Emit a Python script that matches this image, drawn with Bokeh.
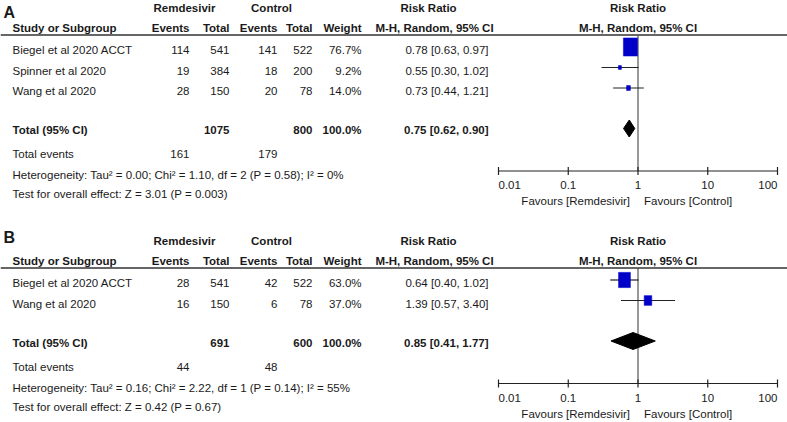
import math
from bokeh.plotting import figure
from bokeh.models import Range1d, LogScale, ColumnDataSource
from bokeh.core.properties import value
from bokeh.embed import file_html
from bokeh.resources import INLINE

# ---------------- data ----------------
# Panel A
studies_a = ["Biegel et al 2020 ACCT", "Spinner et al 2020", "Wang et al 2020"]
rem_events_a = [114, 19, 28]
rem_total_a = [541, 384, 150]
ctl_events_a = [141, 18, 20]
ctl_total_a = [522, 200, 78]
weight_a = [76.7, 9.2, 14.0]
rr_a = [0.78, 0.55, 0.73]
rr_lo_a = [0.63, 0.30, 0.44]
rr_hi_a = [0.97, 1.02, 1.21]
pooled_a = [0.75, 0.62, 0.90]          # estimate, lower, upper
totals_a = [1075, 800]                 # remdesivir total, control total
total_weight_a = "100.0%"
total_events_a = [161, 179]
het_a = "Heterogeneity: Tau\u00b2 = 0.00; Chi\u00b2 = 1.10, df = 2 (P = 0.58); I\u00b2 = 0%"
test_a = "Test for overall effect: Z = 3.01 (P = 0.003)"

# Panel B
studies_b = ["Biegel et al 2020 ACCT", "Wang et al 2020"]
rem_events_b = [28, 16]
rem_total_b = [541, 150]
ctl_events_b = [42, 6]
ctl_total_b = [522, 78]
weight_b = [63.0, 37.0]
rr_b = [0.64, 1.39]
rr_lo_b = [0.40, 0.57]
rr_hi_b = [1.02, 3.40]
pooled_b = [0.85, 0.41, 1.77]
totals_b = [691, 600]
total_weight_b = "100.0%"
total_events_b = [44, 48]
het_b = "Heterogeneity: Tau\u00b2 = 0.16; Chi\u00b2 = 2.22, df = 1 (P = 0.14); I\u00b2 = 55%"
test_b = "Test for overall effect: Z = 0.42 (P = 0.67)"

axis_ticks = [0.01, 0.1, 1, 10, 100]
axis_tick_labels = ["0.01", "0.1", "1", "10", "100"]

# ---------------- styling / layout ----------------
FONT = "Liberation Sans"
FS = "11.5px"
TXT = "#1a1a1a"
BLUE = "#0000c8"

W, H = 787, 422
p = figure(width=W, height=H, x_range=Range1d(0, 787), y_range=Range1d(422, 0),
           toolbar_location=None, output_backend="svg", min_border=0,
           outline_line_color=None, background_fill_color="white")
p.xaxis.visible = False
p.yaxis.visible = False
p.xgrid.visible = False
p.ygrid.visible = False

# log scale for the forest part: 1 decade = 69.75 ref px, RR=1 at x=637.5
PX_DEC = 69.75
X_ONE = 637.5
log_lo = (0 - X_ONE) / PX_DEC
log_hi = (787 - X_ONE) / PX_DEC
p.extra_x_ranges = {"log": Range1d(10 ** log_lo, 10 ** log_hi)}
p.extra_x_scales = {"log": LogScale()}


def txt(x, y, s, align="left", bold=False, size=FS, rng="default", xoff=0):
    src = ColumnDataSource(dict(x=list(x), y=list(y), t=list(s)))
    p.text(x="x", y="y", text="t", source=src, text_align=align, text_baseline="middle",
           text_font=value(FONT), text_font_size=size,
           text_font_style="bold" if bold else "normal", text_color=TXT,
           x_range_name=rng, x_offset=xoff)


def panel(letter, letter_y, hdr_y, studies, rev, rtot, cev, ctot, wt, rr, lo, hi,
          pooled, totals, tweight, tevents, het, test):
    col_y = hdr_y + 20
    line_y = col_y + 7.5
    first = line_y + 15
    rows = [first + 20.5 * i for i in range(len(studies))]
    last = rows[-1]
    tot_y = last + 39
    tev_y = tot_y + 24
    het_y = tot_y + 45
    test_y = tot_y + 64
    ax_y = tot_y + 41
    tick_y = tot_y + 55
    fav_y = tot_y + 71

    # letter
    txt([3], [letter_y], [letter], bold=True, size="16px")
    # group headers
    txt([184, 271], [hdr_y, hdr_y], ["Remdesivir", "Control"], align="center", bold=True)
    txt([428], [hdr_y], ["Risk Ratio"], align="center", bold=True)
    txt([1], [hdr_y], ["Risk Ratio"], align="center", bold=True, rng="log")
    # column headers
    txt([12], [col_y], ["Study or Subgroup"], bold=True)
    txt([189, 229, 277, 312, 361], [col_y] * 5,
        ["Events", "Total", "Events", "Total", "Weight"], align="right", bold=True)
    txt([434], [col_y], ["M-H, Random, 95% CI"], align="center", bold=True)
    txt([1], [col_y], ["M-H, Random, 95% CI"], align="center", bold=True, rng="log")
    # header rule
    p.segment(x0=[0], y0=[line_y], x1=[787], y1=[line_y], line_color="#333333", line_width=1.3)

    # study rows
    n = len(studies)
    txt([12] * n, rows, studies)
    for xc, vals in ((189, rev), (229, rtot), (277, cev), (312, ctot)):
        txt([xc] * n, rows, [str(v) for v in vals], align="right")
    txt([361] * n, rows, [f"{w:.1f}%" for w in wt], align="right")
    txt([488] * n, rows, [f"{a:.2f} [{b:.2f}, {c:.2f}]" for a, b, c in zip(rr, lo, hi)], align="right")

    # total row
    txt([12], [tot_y], ["Total (95% CI)"], bold=True)
    txt([229, 312], [tot_y, tot_y], [str(totals[0]), str(totals[1])], align="right", bold=True)
    txt([361], [tot_y], [tweight], align="right", bold=True)
    txt([488], [tot_y], [f"{pooled[0]:.2f} [{pooled[1]:.2f}, {pooled[2]:.2f}]"], align="right", bold=True)
    txt([12], [tev_y], ["Total events"])
    txt([189, 277], [tev_y, tev_y], [str(tevents[0]), str(tevents[1])], align="right")
    txt([12, 12], [het_y, test_y], [het, test])

    # forest: vertical line of no effect
    p.segment(x0=[1], y0=[line_y], x1=[1], y1=[ax_y], x_range_name="log",
              line_color="#555555", line_width=1.2)
    mark_y = [r - 3 for r in rows]
    p.segment(x0=lo, y0=mark_y, x1=hi, y1=mark_y, x_range_name="log",
              line_color="#222222", line_width=1.2)
    sw = [(1.5 + 0.165 * w) for w in wt]
    sh = [(1.5 + 0.165 * w) * 1.28 for w in wt]
    src = ColumnDataSource(dict(x=rr, y=mark_y, w=sw, h=sh))
    p.rect(x="x", y="y", width="w", height="h", width_units="screen", height_units="screen",
           source=src, x_range_name="log", fill_color=BLUE, line_color=BLUE, line_width=0.5)
    dy = tot_y - 1.5
    dh = 8.5
    p.patch(x=[pooled[1], pooled[0], pooled[2], pooled[0]],
            y=[dy, dy - dh, dy, dy + dh], x_range_name="log",
            fill_color="black", line_color="black")

    # axis
    p.segment(x0=[axis_ticks[0]], y0=[ax_y], x1=[axis_ticks[-1]], y1=[ax_y],
              x_range_name="log", line_color="#222222", line_width=1.2)
    p.segment(x0=axis_ticks, y0=[ax_y - 4] * 5, x1=axis_ticks, y1=[ax_y + 4] * 5,
              x_range_name="log", line_color="#222222", line_width=1.2)
    txt([axis_ticks[0]], [tick_y], [axis_tick_labels[0]], rng="log")
    txt(axis_ticks[1:-1], [tick_y] * 3, axis_tick_labels[1:-1], align="center", rng="log")
    txt([axis_ticks[-1]], [tick_y], [axis_tick_labels[-1]], align="right", rng="log")
    txt([1], [fav_y], ["Favours [Remdesivir]"], align="right", rng="log", xoff=-8)
    txt([1], [fav_y], ["Favours [Control]"], align="left", rng="log", xoff=6)


panel("A", 12, 7, studies_a, rem_events_a, rem_total_a, ctl_events_a, ctl_total_a, weight_a,
      rr_a, rr_lo_a, rr_hi_a, pooled_a, totals_a, total_weight_a, total_events_a, het_a, test_a)
panel("B", 237, 240, studies_b, rem_events_b, rem_total_b, ctl_events_b, ctl_total_b, weight_b,
      rr_b, rr_lo_b, rr_hi_b, pooled_b, totals_b, total_weight_b, total_events_b, het_b, test_b)

open("out.html", "w").write(file_html(p, INLINE))
